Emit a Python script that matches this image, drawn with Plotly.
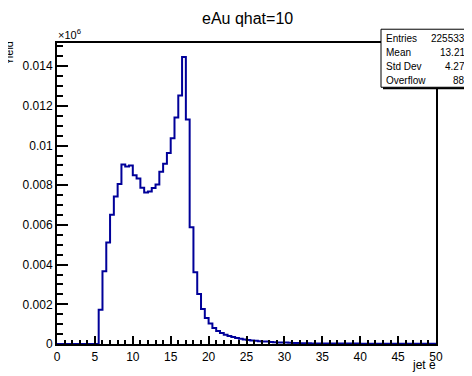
import numpy as np
import plotly.graph_objects as go

# ---- data (bin width 0.5, range 0..50) ----
bin_width = 0.5
x_min, x_max = 0.0, 50.0
yield_values = [
    # 0 - 5.5
    0, 0, 0, 0, 0, 0, 0, 0, 0, 0, 0,
    # 5.5 - 10
    0.00172, 0.00367, 0.00512, 0.00652, 0.00743, 0.00806, 0.00905, 0.00895, 0.00900,
    # 10 - 15
    0.00851, 0.00834, 0.00788, 0.00764, 0.00769, 0.00786, 0.00804, 0.00868, 0.00909, 0.00963,
    # 15 - 20
    0.01037, 0.01141, 0.01252, 0.01446, 0.01132, 0.00589, 0.00361, 0.00252, 0.00177, 0.00131,
    # 20 - 25
    0.00103, 0.00081, 0.00066, 0.00055, 0.00046, 0.00040, 0.00035, 0.00030, 0.00026, 0.00023,
    # 25 - 30
    0.00020, 0.00018, 0.00016, 0.00014, 0.00013, 0.00012, 0.00010, 0.00009, 0.00008, 0.00007,
    # 30 - 35
    0.00007, 0.00006, 0.00005, 0.00005, 0.00004, 0.00004, 0.00004, 0.00003, 0.00003, 0.00003,
    # 35 - 40
    0.00003, 0.00003, 0.00002, 0.00002, 0.00002, 0.00002, 0.00002, 0.00002, 0.00002, 0.00002,
    # 40 - 45
    0.00001, 0.00001, 0.00001, 0.00001, 0.00001, 0.00001, 0.00001, 0.00001, 0.00001, 0.00001,
    # 45 - 50
    0.00001, 0.00001, 0.00001, 0.00001, 0.00001, 0.00001, 0.00001, 0.00001, 0.00001, 0.00001,
]
y_max = 0.01517

title_text = "eAu qhat=10"
x_title = "jet e"
y_title = "Yield"
stats_labels = ["Entries", "Mean", "Std Dev", "Overflow"]
stats_values = ["225533", "13.21", "4.27", "88"]

x_ticks = [0, 5, 10, 15, 20, 25, 30, 35, 40, 45, 50]
y_ticks = [0, 0.002, 0.004, 0.006, 0.008, 0.01, 0.012, 0.014]
y_ticktext = ["0", "0.002", "0.004", "0.006", "0.008", "0.01", "0.012", "0.014"]

# ---- layout geometry (page has an 8px body margin) ----
OFF = 8
W, H = 472 - OFF, 376 - OFF
L, T = 57 - OFF, 43 - OFF
R = W - (436 - OFF)
B = H - (349 - OFF)
PW, PH = W - L - R, H - T - B

def px(p):
    """page x pixel -> paper x"""
    return (p - OFF - L) / PW

def py(p):
    """page y pixel -> paper y"""
    return (H - B - (p - OFF)) / PH

edges = x_min + bin_width * np.arange(len(yield_values) + 1)
xs = list(edges)
ys = list(yield_values) + [yield_values[-1]]

FONT = "Liberation Sans, Arial, sans-serif"
BLUE = "#000099"

fig = go.Figure()
fig.add_trace(go.Scatter(x=xs, y=ys, mode="lines", line=dict(color=BLUE, width=2, shape="hv"),
                         hoverinfo="skip", showlegend=False))

fig.update_layout(
    width=W, height=H,
    margin=dict(l=L, r=R, t=T, b=B, pad=0),
    paper_bgcolor="white", plot_bgcolor="white",
    font=dict(family=FONT, size=12, color="black"),
    showlegend=False,
    xaxis=dict(range=[x_min, x_max], tickvals=x_ticks, ticks="inside", ticklen=8, tickwidth=2,
               tickcolor="black", showline=True, linecolor="black", linewidth=2, mirror=True,
               showgrid=False, zeroline=False, tickfont=dict(size=12), ticklabelstandoff=1,
               minor=dict(dtick=1, ticks="inside", ticklen=4, tickwidth=2, tickcolor="black", showgrid=False)),
    yaxis=dict(range=[0, y_max], tickvals=y_ticks, ticktext=y_ticktext, ticks="inside", ticklen=11,
               tickwidth=2, tickcolor="black", showline=True, linecolor="black", linewidth=2,
               mirror=True, showgrid=False, zeroline=False, tickfont=dict(size=12),
               minor=dict(dtick=0.0005, tick0=0, ticks="inside", ticklen=6, tickwidth=2,
                          tickcolor="black", showgrid=False)),
)

shapes = []
# stats box shadow + box
bx0, bx1, by0, by1 = 381, 469, 29, 88
shapes.append(dict(type="rect", xref="paper", yref="paper", x0=px(bx0 + 2), x1=px(bx1 + 2),
                   y0=py(by1 + 2), y1=py(by0 + 2), fillcolor="black", line=dict(width=0), layer="above"))
shapes.append(dict(type="rect", xref="paper", yref="paper", x0=px(bx0), x1=px(bx1),
                   y0=py(by1), y1=py(by0), fillcolor="white", line=dict(color="black", width=1),
                   layer="above"))
fig.update_layout(shapes=shapes)

ann = []
ann.append(dict(text=title_text, x=px(247), y=py(18), xref="paper", yref="paper", showarrow=False,
                xanchor="center", yanchor="middle", font=dict(size=16, family=FONT)))
ann.append(dict(text=x_title, x=px(437), y=py(370), xref="paper", yref="paper", showarrow=False,
                xanchor="right", yanchor="middle", borderpad=0, font=dict(size=12, family=FONT)))
ann.append(dict(text=y_title, x=px(9), y=py(39), xref="paper", yref="paper", showarrow=False,
                xanchor="center", yanchor="top", textangle=-90, font=dict(size=11, family=FONT)))
ann.append(dict(text="\u00d710<sup>6</sup>", x=px(56), y=py(43), xref="paper", yref="paper",
                showarrow=False, xanchor="left", yanchor="bottom", font=dict(size=11, family=FONT)))
row_y = [38, 52.5, 67, 81]
for lab, val, ry in zip(stats_labels, stats_values, row_y):
    ann.append(dict(text=lab, x=px(384), y=py(ry), xref="paper", yref="paper", showarrow=False,
                    xanchor="left", yanchor="middle", font=dict(size=10, family=FONT)))
    ann.append(dict(text=val, x=px(467), y=py(ry), xref="paper", yref="paper", showarrow=False,
                    xanchor="right", yanchor="middle", font=dict(size=10, family=FONT)))
fig.update_layout(annotations=ann)

fig.write_html("out.html")
